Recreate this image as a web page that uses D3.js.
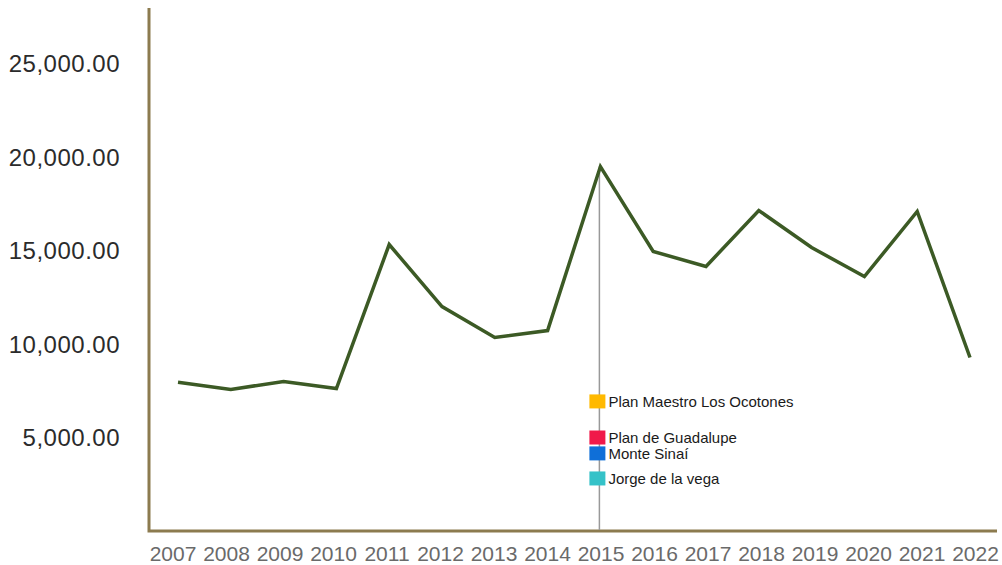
<!DOCTYPE html>
<html>
<head>
<meta charset="utf-8">
<script src="https://cdn.jsdelivr.net/npm/d3@7"></script>
<style>
  body { margin: 0; background: #fff; }
  svg { display: block; font-family: "Liberation Sans", Arial, sans-serif; }
</style>
</head>
<body>
<svg width="1002" height="565"></svg>
<script>
// Chart data
const years = ['2007', '2008', '2009', '2010', '2011', '2012', '2013', '2014',
               '2015', '2016', '2017', '2018', '2019', '2020', '2021', '2022'];
const totals = [7950, 7570, 8000, 7620, 15320, 12000, 10350, 10720,
                19490, 14950, 14150, 17140, 15160, 13610, 17090, 9280];
const yTicks = [5000, 10000, 15000, 20000, 25000];

// Hover marker (2015) with its series labels
const hoverYear = '2015';
const seriesNames = ['Plan Maestro Los Ocotones', 'Plan de Guadalupe', 'Monte Sinaí', 'Jorge de la vega'];
const seriesColors = ['#ffb900', '#f0194a', '#0f6fd8', '#35c2c8'];
const seriesAt = [6930, 5000, 4150, 2810];

const svg = d3.select('svg');
const mLeft = 149, mRight = 997, mTop = 8, mBottom = 531;

let x = d3.scalePoint().domain(years).range([178, 970]);
let y = d3.scaleLinear().domain([0, 27970]).range([mBottom, mTop]);

// y tick labels (no tick lines)
svg.append('g')
  .selectAll('text')
  .data(yTicks)
  .join('text')
  .attr('x', 120)
  .attr('y', (d) => y(d))
  .attr('dy', '0.36em')
  .attr('text-anchor', 'end')
  .attr('font-size', 24)
  .attr('letter-spacing', '0.5')
  .attr('fill', '#2b2b2b')
  .text((d) => d3.format(',.2f')(d));

// x tick labels
svg.append('g')
  .selectAll('text')
  .data(years)
  .join('text')
  .attr('x', (d) => x(d) - 5 + years.indexOf(d) * 0.7)
  .attr('y', 553)
  .attr('dy', '0.36em')
  .attr('text-anchor', 'middle')
  .attr('font-size', 21)
  .attr('fill', '#6a6a6a')
  .text((d) => d);

// axis lines
svg.append('path')
  .attr('d', `M${mLeft},${mTop}V${mBottom}H${mRight}`)
  .attr('fill', 'none')
  .attr('stroke', '#8c7b4f')
  .attr('stroke-width', 3);

// crosshair
const hoverIdx = years.indexOf(hoverYear);
svg.append('line')
  .attr('x1', x(hoverYear) - 1).attr('x2', x(hoverYear) - 1)
  .attr('y1', y(totals[hoverIdx])).attr('y2', mBottom - 1)
  .attr('stroke', '#999')
  .attr('stroke-width', 1.5);

// main line
let line = d3.line()
  .x((d, i) => x(years[i]))
  .y((d) => y(d));

svg.append('path')
  .datum(totals)
  .attr('d', line)
  .attr('fill', 'none')
  .attr('stroke', '#3c5a25')
  .attr('stroke-width', 3.5)
  .attr('stroke-linejoin', 'miter');

// labels at the crosshair
const lab = svg.append('g')
  .selectAll('g')
  .data(seriesNames)
  .join('g')
  .attr('transform', (d, i) => `translate(${x(hoverYear) - 2},${y(seriesAt[i])})`);

lab.append('rect')
  .attr('x', -9).attr('y', -7)
  .attr('width', 16).attr('height', 14)
  .attr('fill', (d, i) => seriesColors[i]);

lab.append('text')
  .attr('x', 10)
  .attr('dy', '0.36em')
  .attr('font-size', 15)
  .attr('fill', '#1a1a1a')
  .text((d) => d);
</script>
</body>
</html>
